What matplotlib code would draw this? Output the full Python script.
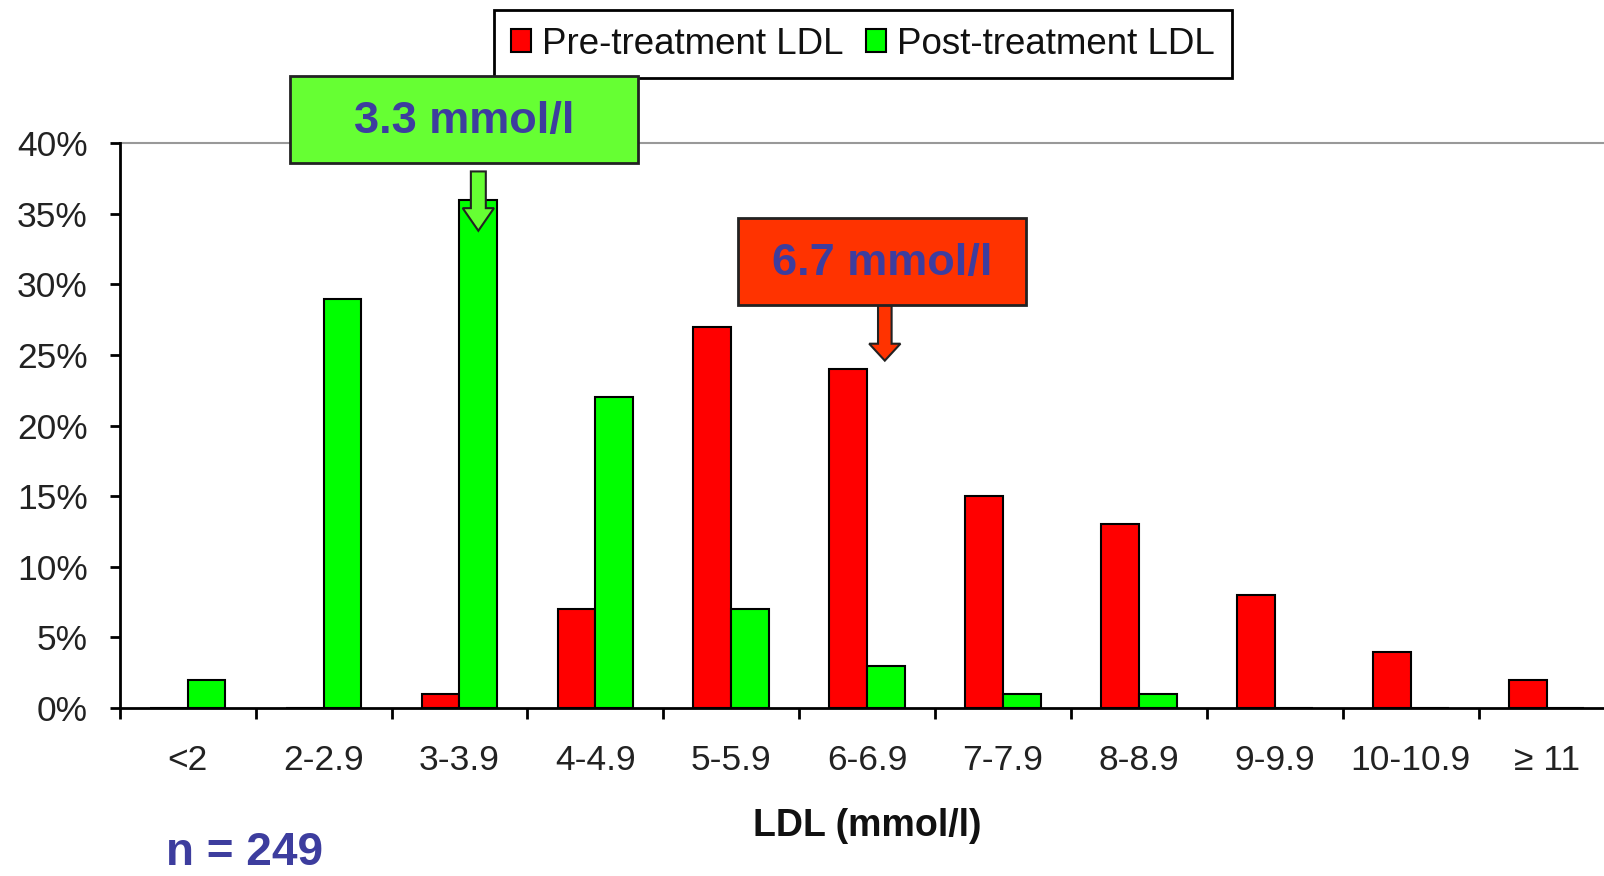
import matplotlib
matplotlib.use("Agg")
import matplotlib.pyplot as plt
from matplotlib.patches import Rectangle, Patch, FancyArrow
from matplotlib.ticker import FixedLocator, FuncFormatter

plt.rcParams['font.family'] = ['Liberation Sans', 'DejaVu Sans']

categories = ['<2', '2-2.9', '3-3.9', '4-4.9', '5-5.9', '6-6.9', '7-7.9',
              '8-8.9', '9-9.9', '10-10.9', '≥ 11']
pre_treatment = [0, 0, 1, 7, 27, 24, 15, 13, 8, 4, 2]
post_treatment = [2, 29, 36, 22, 7, 3, 1, 1, 0, 0, 0]
y_ticks = [0, 5, 10, 15, 20, 25, 30, 35, 40]
series_labels = ['Pre-treatment LDL', 'Post-treatment LDL']
post_mean_label = '3.3 mmol/l'
pre_mean_label = '6.7 mmol/l'
n_label = 'n = 249'

RED = '#ff0000'
GREEN = '#00ff00'
BOX_GREEN = '#66ff33'
BOX_RED = '#ff3300'
BLUE_TEXT = '#3d3d9e'

W, H = 1604, 876
fig = plt.figure(figsize=(W / 100, H / 100), dpi=100)
left_px, right_px = 119.7, 1614.6
bottom_px, top_px = 708.0, 143.2
ax = fig.add_axes([left_px / W, 1 - bottom_px / H,
                   (right_px - left_px) / W, (bottom_px - top_px) / H])

x = list(range(len(categories)))
bw = 0.278
ax.bar([i - bw / 2 for i in x], pre_treatment, width=bw, color=RED,
       edgecolor='black', linewidth=1.5, zorder=3)
ax.bar([i + bw / 2 for i in x], post_treatment, width=bw, color=GREEN,
       edgecolor='black', linewidth=1.5, zorder=3)

ax.set_xlim(-0.5, len(categories) - 0.5)
ax.set_ylim(0, 40)

# spines
for s in ['top', 'right']:
    ax.spines[s].set_visible(False)
ax.spines['left'].set_linewidth(2)
ax.spines['bottom'].set_linewidth(2)
ax.spines['left'].set_zorder(5)
ax.spines['bottom'].set_zorder(5)
ax.axhline(40, color='#999999', linewidth=1.5, zorder=1, clip_on=False)

# y ticks
ax.yaxis.set_major_locator(FixedLocator(y_ticks))
ax.yaxis.set_major_formatter(FuncFormatter(lambda v, p: f'{int(v)}%'))
ax.tick_params(axis='y', which='major', direction='out', length=7, width=2,
               pad=16, labelsize=25.5, labelcolor='#222222')

# x ticks: labels at centers, tick marks between categories
ax.xaxis.set_major_locator(FixedLocator(x))
ax.set_xticklabels(categories)
ax.xaxis.set_minor_locator(FixedLocator([i - 0.5 for i in range(len(categories))]))
ax.tick_params(axis='x', which='major', length=0, pad=26, labelsize=25.5,
               labelcolor='#222222')
ax.tick_params(axis='x', which='minor', direction='out', length=8, width=2)

ax.set_xlabel('LDL (mmol/l)', fontsize=27, fontweight='bold', color='#111111')
ax.xaxis.set_label_coords(0.5, -(826 - bottom_px) / (bottom_px - top_px))
ax.xaxis.label.set_va('center')

# legend
handles = [Patch(facecolor=RED, edgecolor='black', linewidth=1.5),
           Patch(facecolor=GREEN, edgecolor='black', linewidth=1.5)]
leg = fig.legend(handles, series_labels, loc='center',
                 bbox_to_anchor=(863 / W, 1 - 44 / H), ncol=2, frameon=True,
                 fancybox=False, edgecolor='black', framealpha=1, fontsize=26.5,
                 handlelength=0.55, handleheight=0.55, handletextpad=0.3,
                 columnspacing=0.6, borderpad=0.45)
leg.get_frame().set_linewidth(2)
for t in leg.get_texts():
    t.set_color('#111111')

# annotation boxes (figure pixel placement)
def add_box(x0, y0, x1, y1, color, text):
    r = Rectangle((x0 / W, 1 - y1 / H), (x1 - x0) / W, (y1 - y0) / H,
                  transform=fig.transFigure, facecolor=color,
                  edgecolor='#222222', linewidth=2, zorder=10)
    fig.add_artist(r)
    fig.text((x0 + x1) / 2 / W, 1 - (y0 + y1 + 4) / 2 / H, text, ha='center',
             va='center', fontsize=32.5, fontweight='bold', color=BLUE_TEXT,
             zorder=11)

add_box(290, 76, 638, 163, BOX_GREEN, post_mean_label)
add_box(738, 218, 1026, 305, BOX_RED, pre_mean_label)

# arrows in data coordinates
def add_arrow(xc, y_top, y_tip, color, shaft_w, head_w, head_l):
    a = FancyArrow(xc, y_top, 0, y_tip - y_top, width=shaft_w,
                   head_width=head_w, head_length=head_l,
                   length_includes_head=True, facecolor=color,
                   edgecolor='#222222', linewidth=1.5, zorder=6, clip_on=False)
    ax.add_patch(a)

add_arrow(2 + bw / 2, 38.0, 33.8, BOX_GREEN, 0.11, 0.23, 1.6)
add_arrow(5.13, 29.2, 24.6, BOX_RED, 0.10, 0.23, 1.2)

fig.text(166 / W, 1 - 853 / H, n_label, ha='left', va='center', fontsize=33,
         fontweight='bold', color=BLUE_TEXT)

fig.savefig('out.png', dpi=100, facecolor='white')
